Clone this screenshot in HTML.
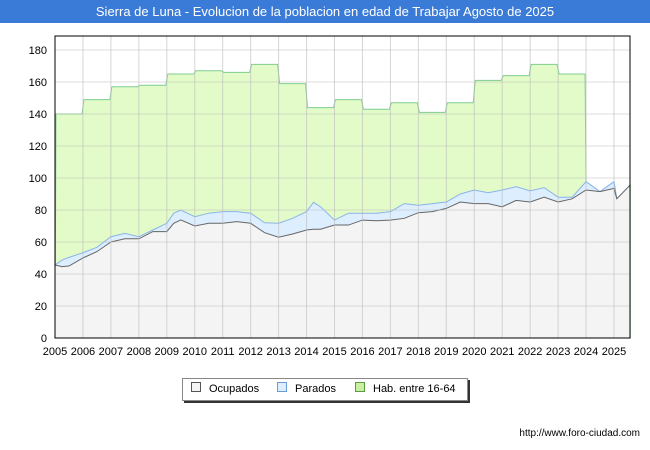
<!DOCTYPE html>
<html><head><meta charset="utf-8"><style>
body{margin:0;width:650px;height:450px;background:#fff;font-family:"Liberation Sans",sans-serif;overflow:hidden}
#title{position:absolute;left:0;top:0;width:650px;height:23px;background:#3b7bd8;color:#fff;font-size:13px;text-align:center;line-height:23px}
</style></head><body>
<div id="title">Sierra de Luna - Evolucion de la poblacion en edad de Trabajar Agosto de 2025</div>
<svg id="c" width="650" height="450" style="position:absolute;left:0;top:0"></svg>
<script>
const times=[2005,2005.25,2005.5,2006,2006.5,2007,2007.5,2008,2008.5,2009,2009.25,2009.5,2010,2010.5,2011,2011.5,2012,2012.5,2013,2013.5,2014,2014.25,2014.5,2015,2015.5,2016,2016.5,2017,2017.5,2018,2018.5,2019,2019.5,2020,2020.5,2021,2021.5,2022,2022.5,2023,2023.5,2024,2024.5,2025,2025.1,2025.58];
const ocupados=[45.6,44.6,45,50,54,60,62,62,66.5,66.5,71.7,73.8,70,71.7,71.7,72.7,71.7,65.8,63,65,67.5,68,68,70.6,70.6,73.7,73.3,73.7,74.8,78.3,79,81,85,84,84,82,86,85,88,85,87,92.5,91.5,93.5,87,95.6];
const total=[45.6,48.7,50.4,53.3,56.7,63.3,65.4,63.3,67.5,71.7,78,80,75.8,78,79,79,78,72,71.7,74.8,79,84.8,82,73.7,78,78,78,79,84,83,84,85,90,92.5,90.8,92.5,94.6,92,94,88,88,97.7,91.5,97.7,87,95.6];
const habYears=[2005,2006,2007,2008,2009,2010,2011,2012,2013,2014,2015,2016,2017,2018,2019,2020,2021,2022,2023];
const habValues=[140,149,157,158,165,167,166,171,159,144,149,143,147,141,147,161,164,171,165];
const yTicks=[0,20,40,60,80,100,120,140,160,180];
const xTicks=[2005,2006,2007,2008,2009,2010,2011,2012,2013,2014,2015,2016,2017,2018,2019,2020,2021,2022,2023,2024,2025];
const X0=55,X1=630,Y0=338,Y1=36;
const x=t=>X0+(t-2005)*27.95;
const y=v=>Y0-v*1.6;
const svg=document.getElementById('c');const NS='http://www.w3.org/2000/svg';
function mk(tag,at,parent){const e=document.createElementNS(NS,tag);for(const k in at)e.setAttribute(k,at[k]);(parent||svg).appendChild(e);return e;}
let r=mk('rect',{x:X0,y:Y1,width:X1-X0,height:Y0-Y1,fill:'#fff',stroke:'none'});


// hab step path
let hp='M'+x(2005)+','+y(0);
habYears.forEach((yr,i)=>{hp+=' L'+(x(yr)+1)+','+y(habValues[i])+' L'+(x(yr+1)-1)+','+y(habValues[i]);});
times.forEach((t,i)=>{if(t>=2024)hp+=' L'+x(t)+','+y(total[i]);});
hp+=' L'+x(times[times.length-1])+','+y(0)+' Z';
let h=mk('path',{d:hp,fill:'#e2fbc8',stroke:'#7fcf90','stroke-width':1});


function area(vals,fill,stroke,name){let d='M'+x(times[0])+','+y(0);times.forEach((t,i)=>d+=' L'+x(t)+','+y(vals[i]));d+=' L'+x(times[times.length-1])+','+y(0)+' Z';
let p=mk('path',{d:d,fill:fill,stroke:'none'});


let l='M'+times.map((t,i)=>x(t)+','+y(vals[i])).join(' L');
let q=mk('path',{d:l,fill:'none',stroke:stroke,'stroke-width':1});

}
area(total,'#ddeeff','#8ab4ea','parados');
area(ocupados,'#f4f4f4','#666','ocupados');
yTicks.forEach(v=>{let l=mk('line',{x1:X0,x2:X1,y1:y(v),y2:y(v),stroke:'#bbb','stroke-opacity':0.5});


let t=mk('text',{x:X0-8,y:y(v)+4,'text-anchor':'end','font-size':11,fill:'#000'});t.textContent=v;

});
xTicks.forEach(v=>{let l=mk('line',{x1:x(v),x2:x(v),y1:Y1,y2:Y0,stroke:'#bbb','stroke-opacity':0.6});


let t=mk('text',{x:x(v),y:Y0+17,'text-anchor':'middle','font-size':11,fill:'#000'});t.textContent=v;

});
let b=mk('rect',{x:X0,y:Y1,width:X1-X0,height:Y0-Y1,fill:'none',stroke:'#000','stroke-width':1});


</script>
<div style="position:absolute;left:182px;top:378px;width:284px;height:21px;border:1px solid #888;box-shadow:2px 2px 0 #333;background:#fff;font-size:11px;line-height:21px">
<span style="position:absolute;left:8px"><span style="display:inline-block;width:8px;height:8px;border:1px solid #555;background:#f4f4f4;margin-right:8px"></span>Ocupados</span>
<span style="position:absolute;left:94px"><span style="display:inline-block;width:8px;height:8px;border:1px solid #6a9ad8;background:#ddeeff;margin-right:8px"></span>Parados</span>
<span style="position:absolute;left:172px"><span style="display:inline-block;width:8px;height:8px;border:1px solid #5a9a40;background:#c8f0a0;margin-right:8px"></span>Hab. entre 16-64</span>
</div>
<div style="position:absolute;right:10px;top:428px;font-size:10px">http://www.foro-ciudad.com</div>
</body></html>
